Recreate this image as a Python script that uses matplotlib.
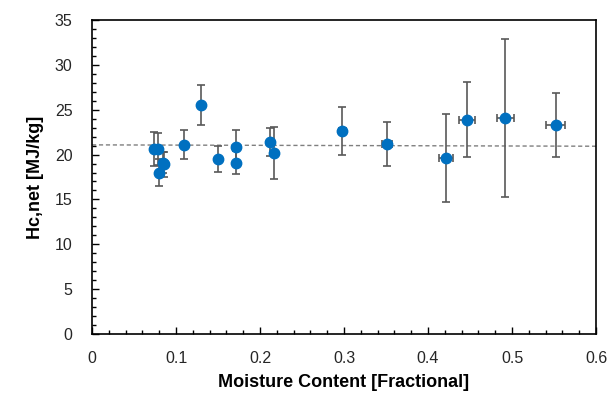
import numpy as np
import matplotlib
matplotlib.use("Agg")
from matplotlib import pyplot as plt
from matplotlib.ticker import MultipleLocator

# moisture content (fractional) and net heat of combustion (MJ/kg)
moisture = [0.074, 0.079, 0.080, 0.084, 0.086, 0.109, 0.130, 0.150, 0.171, 0.172,
            0.212, 0.217, 0.298, 0.351, 0.421, 0.446, 0.492, 0.552]
hc_net = [20.6, 20.6, 18.0, 19.1, 18.9, 21.1, 25.5, 19.5, 20.8, 19.1,
          21.4, 20.2, 22.6, 21.2, 19.6, 23.9, 24.1, 23.3]
hc_err = [1.9, 1.8, 1.5, 1.2, 1.4, 1.65, 2.2, 1.45, 1.9, 1.3,
          1.55, 2.9, 2.7, 2.45, 4.9, 4.2, 8.8, 3.55]
mc_err = [0.0, 0.0, 0.0, 0.0, 0.0, 0.0, 0.0, 0.0, 0.0, 0.0,
          0.0, 0.0, 0.004, 0.006, 0.0085, 0.0095, 0.0105, 0.011]

# trendline
trend_intercept = 21.08
trend_slope = -0.25

plt.rcParams['font.family'] = ['Liberation Sans', 'DejaVu Sans']

fig = plt.figure(figsize=(6.15, 4.04), dpi=100)
ax = fig.add_axes([0.1496, 0.1733, 0.8196, 0.7772])

xt = np.array([0.0, 0.6])
ax.plot(xt, trend_intercept + trend_slope * xt, ls=(0, (3, 2)), color='#7f7f7f',
        lw=1.0, zorder=1)

ax.errorbar(moisture, hc_net, yerr=hc_err, xerr=mc_err, fmt='o', color='#0070C0',
            markersize=7.5, ecolor='#595959', elinewidth=1.2, capsize=2.6,
            capthick=1.2, zorder=3)

ax.set_xlim(0, 0.6)
ax.set_ylim(0, 35)
ax.set_xticks([0, 0.1, 0.2, 0.3, 0.4, 0.5, 0.6])
ax.set_xticklabels(['0', '0.1', '0.2', '0.3', '0.4', '0.5', '0.6'])
ax.xaxis.set_minor_locator(MultipleLocator(0.02))
ax.yaxis.set_major_locator(MultipleLocator(5))
ax.yaxis.set_minor_locator(MultipleLocator(1))
ax.tick_params(which='major', direction='in', length=5, width=1, labelsize=11.5,
               colors='black', labelcolor='#262626', pad=12)
ax.tick_params(which='minor', direction='in', length=3, width=1)
ax.tick_params(axis='y', which='major', pad=14)
for s in ax.spines.values():
    s.set_linewidth(1.2)
    s.set_color('black')

ax.set_xlabel('Moisture Content [Fractional]', fontsize=13, fontweight='bold', labelpad=6)
ax.set_ylabel('Hc,net [MJ/kg]', fontsize=13, fontweight='bold', labelpad=8)

fig.savefig('out.png', dpi=100)
